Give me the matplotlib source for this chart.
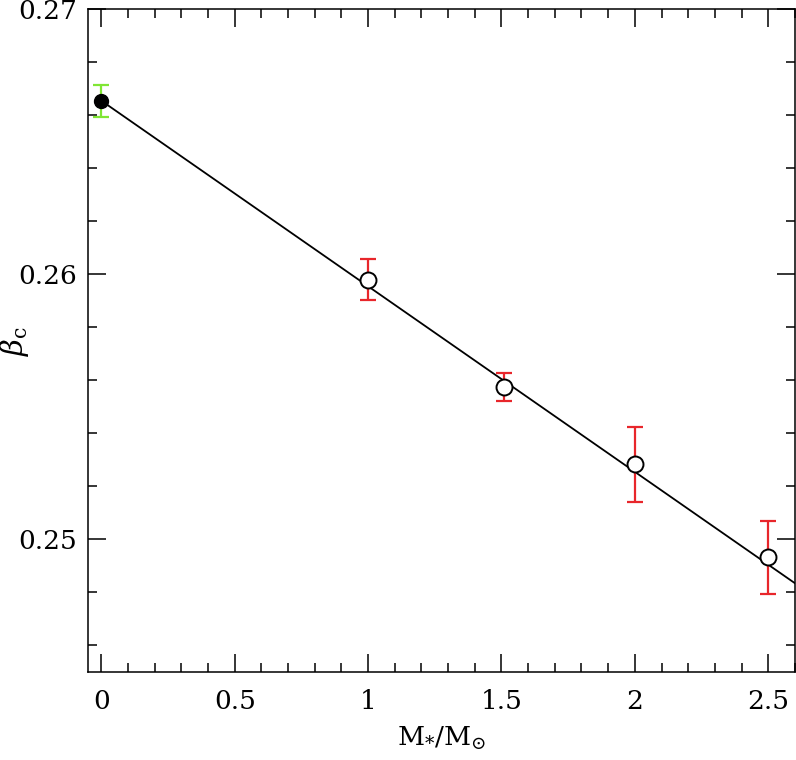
import numpy as np
import matplotlib
matplotlib.use("Agg")
import matplotlib.pyplot as plt
from matplotlib.ticker import MultipleLocator, FuncFormatter

# --- data ---
mass = [1.0, 1.51, 2.0, 2.5]
beta = [0.2598, 0.25575, 0.25283, 0.24933]
beta_err = [0.00077, 0.00052, 0.00143, 0.00137]

mass0 = [0.0]
beta0 = [0.26655]
beta0_err = [0.0006]

fit_x = [0.0, 2.6]
fit_y = [0.26655, 0.24835]

plt.rcParams['font.family'] = ['DejaVu Serif']
plt.rcParams['mathtext.fontset'] = 'dejavuserif'

fig = plt.figure(figsize=(7.96, 7.6), dpi=100)
ax = fig.add_axes([0.1106, 0.1158, 0.888, 0.872])

ax.plot(fit_x, fit_y, color='black', lw=1.3, zorder=2)

ax.errorbar(mass, beta, yerr=beta_err, fmt='none', ecolor='#e8262b',
            elinewidth=1.6, capsize=6, capthick=1.6, zorder=3)
ax.plot(mass, beta, 'o', ms=11.5, mfc='white', mec='black', mew=1.4, zorder=4)

ax.errorbar(mass0, beta0, yerr=beta0_err, fmt='none', ecolor='#80e634',
            elinewidth=1.6, capsize=6, capthick=1.6, zorder=3)
ax.plot(mass0, beta0, 'o', ms=10, color='black', zorder=4)

ax.set_xlim(-0.05, 2.6)
ax.set_ylim(0.245, 0.27)

ax.xaxis.set_major_locator(MultipleLocator(0.5))
ax.xaxis.set_minor_locator(MultipleLocator(0.1))
ax.yaxis.set_major_locator(MultipleLocator(0.01))
ax.yaxis.set_minor_locator(MultipleLocator(0.002))
ax.xaxis.set_major_formatter(FuncFormatter(lambda v, p: '%g' % round(v, 3)))
ax.yaxis.set_major_formatter(FuncFormatter(lambda v, p: '%g' % round(v, 4)))

ax.tick_params(which='both', direction='in', top=True, right=True,
               width=1.1, labelsize=19)
ax.tick_params(axis='x', pad=12)
ax.tick_params(axis='y', pad=8)
ax.tick_params(which='major', length=13)
ax.tick_params(which='minor', length=6.5)
for s in ax.spines.values():
    s.set_linewidth(1.1)

ax.set_xlabel(r'$\mathrm{M}_{*}/\mathrm{M}_{\odot}$', fontsize=19, labelpad=8)
ax.set_ylabel(r'$\beta_{\mathrm{c}}$', fontsize=21)
ax.yaxis.set_label_coords(-0.08, 0.5)

fig.savefig('out.png', dpi=100)
